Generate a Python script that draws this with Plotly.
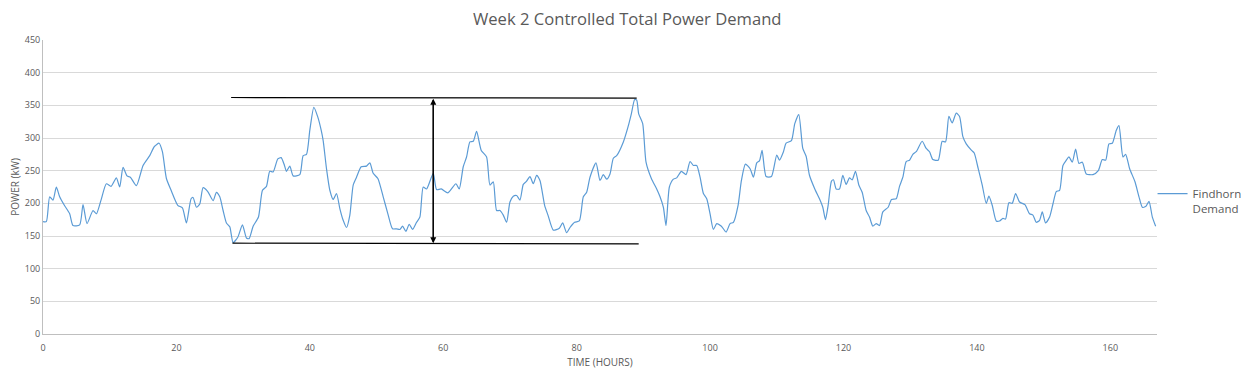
import plotly.graph_objects as go

# Time (hours) and controlled total power demand (kW)
hours = [
    0.0, 0.5, 1.0, 1.5, 2.0, 2.5, 3.2, 4.0, 4.5, 5.5, 6.0, 6.6, 7.5, 8.0, 8.7, 9.5,
    10.2, 11.0, 11.5, 12.0, 12.6, 13.1, 14.0, 15.0, 16.0, 16.7, 17.4, 17.9, 18.5, 19.2,
    20.2, 20.9, 21.5, 22.2, 22.5, 23.0, 23.5, 24.0, 24.7, 25.5, 26.0, 26.5, 27.0, 27.5,
    28.0, 28.5, 29.2, 29.9, 30.5, 30.9, 31.5, 32.3, 32.9, 33.5, 34.0, 34.5, 35.2, 35.7,
    36.2, 36.5, 37.0, 37.5, 38.5, 39.0, 39.5, 40.0, 40.6, 41.2, 41.7, 42.0, 42.5, 43.0,
    43.5, 44.0, 44.5, 45.0, 45.5, 46.0, 46.5, 47.0, 47.7, 48.5, 49.0, 49.5, 50.2, 51.0,
    51.7, 52.4, 53.0, 53.5, 53.9, 54.4, 54.9, 55.4, 56.0, 56.5, 57.0, 57.5, 58.5, 59.0,
    59.7, 60.7, 61.9, 62.4, 63.0, 63.5, 64.0, 64.5, 65.0, 65.7, 66.5, 67.0, 67.5, 68.0,
    68.5, 69.0, 69.5, 70.0, 70.5, 71.0, 71.5, 72.0, 72.5, 73.0, 73.5, 74.0, 74.5, 75.2,
    75.7, 76.5, 77.4, 77.9, 78.5, 79.0, 79.7, 80.4, 81.0, 81.5, 82.0, 82.9, 83.5, 84.0,
    84.5, 85.0, 85.5, 86.0, 87.0, 87.7, 88.2, 88.7, 89.0, 89.3, 89.9, 90.4, 91.2, 92.0,
    92.5, 93.0, 93.4, 93.9, 94.5, 95.0, 95.7, 96.4, 97.0, 97.5, 98.0, 98.5, 99.0, 99.5,
    100.0, 100.5, 101.0, 101.7, 102.4, 103.0, 103.5, 104.2, 104.7, 105.3, 106.0, 106.5,
    107.0, 107.4, 107.8, 108.4, 109.2, 110.0, 110.4, 111.0, 111.4, 112.2, 112.7, 113.3,
    113.9, 114.4, 114.9, 115.7, 116.4, 116.9, 117.3, 117.7, 118.2, 118.5, 118.9, 119.4,
    119.9, 120.4, 120.9, 121.3, 121.8, 122.3, 122.8, 123.4, 123.9, 124.4, 124.9, 125.4,
    125.9, 126.7, 127.2, 127.9, 128.4, 128.9, 129.4, 129.9, 130.4, 130.9, 131.8, 132.4,
    132.9, 133.4, 134.2, 134.8, 135.3, 135.8, 136.3, 136.9, 137.4, 137.9, 138.4, 139.2,
    139.6, 140.2, 140.8, 141.4, 141.8, 142.3, 142.9, 143.4, 143.9, 144.3, 144.8, 145.3,
    145.8, 146.4, 147.2, 147.9, 148.4, 148.9, 149.4, 149.8, 150.3, 150.9, 151.4, 151.9,
    152.4, 152.9, 153.4, 153.8, 154.3, 154.8, 155.3, 155.8, 156.4, 157.4, 158.2, 158.8,
    159.3, 159.8, 160.3, 160.9, 161.3, 161.9, 162.3, 162.9, 163.7, 164.3, 164.8, 165.3,
    165.8, 166.3, 166.8,
]
power_kw = [
    172, 172, 210, 205, 225, 210, 197, 184, 166, 167, 198, 169, 189, 184, 205, 230,
    226, 239, 225, 255, 242, 240, 227, 258, 273, 287, 292, 279, 238, 220,
    197, 193, 170, 207, 209, 194, 199, 224, 218, 204, 217, 210, 189, 170,
    164, 140, 148, 167, 147, 146, 165, 179, 220, 226, 249, 248, 268, 270,
    258, 249, 257, 242, 244, 273, 275, 312, 347, 332, 312, 296, 253, 220,
    206, 215, 192, 174, 163, 182, 228, 240, 256, 257, 262, 246, 238, 210,
    184, 161, 161, 160, 165, 157, 168, 160, 171, 179, 225, 222, 246, 221,
    222, 216, 230, 222, 256, 271, 294, 295, 310, 281, 271, 228, 233, 189,
    189, 182, 171, 202, 211, 212, 205, 229, 234, 241, 230, 243, 235, 197,
    182, 159, 162, 170, 155, 163, 171, 173, 210, 217, 240, 262, 235, 244,
    237, 245, 269, 273, 294, 317, 337, 359, 358, 337, 322, 263, 238, 222,
    210, 194, 166, 225, 237, 239, 249, 244, 264, 258, 258, 240, 215, 207,
    184, 160, 169, 165, 156, 169, 171, 197, 235, 260, 253, 240,
    262, 265, 281, 241, 241, 274, 266, 279, 292, 296, 322, 336,
    284, 272, 243, 222, 207, 194, 175, 197, 234, 236, 222, 222,
    243, 229, 239, 236, 249, 228, 217, 189, 179, 165, 169, 166,
    187, 194, 206, 207, 226, 240, 264, 266, 275, 279, 295, 284,
    279, 267, 266, 295, 294, 333, 323, 338, 333, 302, 291, 281,
    277, 253, 228, 200, 211, 197, 173, 173, 177, 176, 201, 200,
    215, 202, 198, 184, 182, 171, 174, 187, 170, 179, 199, 218,
    220, 258, 266, 271, 263, 283, 261, 263, 245, 244, 250, 267,
    266, 291, 292, 312, 319, 271, 275, 253, 233, 210, 194, 195,
    203, 179, 165,
]

# Range annotation drawn on the reference (hours / kW)
range_top_start = (28.2, 362)
range_top_end = (89.0, 361)
range_bottom_start = (28.4, 139)
range_bottom_end = (89.3, 138)
arrow_hour = 58.5
arrow_top_kw = 360
arrow_bottom_kw = 139

x_ticks = [0, 20, 40, 60, 80, 100, 120, 140, 160]
y_ticks = [0, 50, 100, 150, 200, 250, 300, 350, 400, 450]

FONT = "Open Sans"
GREY = "#595959"

fig = go.Figure()
fig.add_trace(go.Scatter(
    x=hours, y=power_kw, mode="lines", name="Findhorn<br>Demand",
    line=dict(color="#5B9BD5", width=1.2, shape="spline", smoothing=0.6),
))

for (x0, y0), (x1, y1) in [(range_top_start, range_top_end), (range_bottom_start, range_bottom_end)]:
    fig.add_shape(type="line", x0=x0, y0=y0, x1=x1, y1=y1, xref="x", yref="y",
                  line=dict(color="black", width=1.2))

for y_from, y_to in [(arrow_bottom_kw, arrow_top_kw), (arrow_top_kw, arrow_bottom_kw)]:
    fig.add_annotation(x=arrow_hour, y=y_to, ax=arrow_hour, ay=y_from,
                       xref="x", yref="y", axref="x", ayref="y", text="",
                       showarrow=True, arrowhead=2, arrowsize=1, arrowwidth=1.2,
                       arrowcolor="black")

# The page body adds an 8px offset, so the figure is sized to fit the window
fig.update_layout(
    width=1251, height=371,
    margin=dict(l=35, r=102, t=32, b=45, autoexpand=False),
    paper_bgcolor="white", plot_bgcolor="white",
    font=dict(family=FONT, color=GREY, size=10),
    title=dict(text="Week 2 Controlled Total Power Demand", x=0.495, xanchor="center",
               y=0.971, yanchor="middle", automargin=False,
               font=dict(family=FONT, size=16.6, color=GREY)),
    showlegend=True,
    legend=dict(x=0.996, y=0.525, xanchor="left", yanchor="top", valign="top",
                font=dict(family=FONT, size=11.5, color=GREY),
                bgcolor="rgba(0,0,0,0)", itemwidth=30, tracegroupgap=0),
    xaxis=dict(range=[0, 167], tickvals=x_ticks, showgrid=False, zeroline=False,
               showline=True, linecolor="#bfbfbf", linewidth=1, ticks="",
               automargin=False, ticklabelstandoff=5, tickfont=dict(size=9, color=GREY),
               title=dict(text="TIME (HOURS)", font=dict(size=10, color=GREY), standoff=6)),
    yaxis=dict(range=[0, 450], tickvals=y_ticks, showgrid=True, gridcolor="#d9d9d9",
               gridwidth=1, zeroline=False, showline=True, linecolor="#bfbfbf",
               linewidth=1, ticks="", automargin=False, tickfont=dict(size=9, color=GREY),
               title=dict(text="POWER (kW)", font=dict(size=10, color=GREY), standoff=6)),
)

fig.write_html("out.html")
